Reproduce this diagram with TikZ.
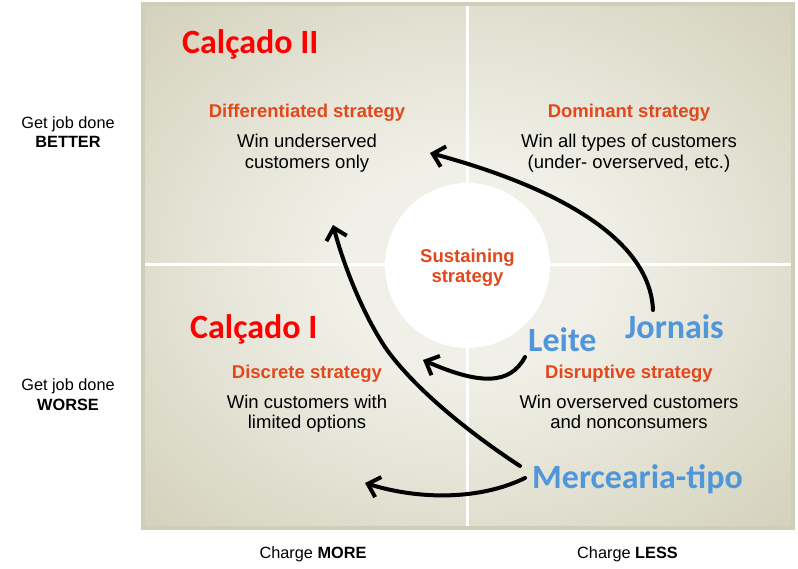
\documentclass[tikz,border=0pt]{standalone}
\usepackage{fontspec}
\setmainfont{Liberation Sans}
\newfontfamily\calfont{Carlito}
\usetikzlibrary{arrows.meta}
\definecolor{bglight}{HTML}{F0F0E8}
\definecolor{bgdark}{HTML}{D3D1BB}
\definecolor{framec}{HTML}{CFCEB8}
\definecolor{stratc}{HTML}{E2481B}
\definecolor{bigred}{HTML}{FF0000}
\definecolor{bigblue}{HTML}{4F96DA}
\pgfdeclareradialshading{bgshade}{\pgfpoint{0bp}{0bp}}{color(0bp)=(bglight); color(10bp)=(bglight); color(36bp)=(bgdark); color(50bp)=(bgdark)}
\begin{document}
\begin{tikzpicture}[x=1pt,y=-1pt,
  axislab/.style={anchor=base, align=center, inner sep=0pt, font=\fontsize{16.3}{19.5}\selectfont},
  head/.style={anchor=base, align=center, inner sep=0pt, text=stratc, font=\fontsize{18.5}{20}\selectfont\bfseries},
  body/.style={anchor=base, align=center, inner sep=0pt, font=\fontsize{18.5}{20.5}\selectfont},
  bigred/.style={anchor=base west, inner sep=0pt, text=bigred, font=\fontsize{34}{38}\selectfont\calfont\bfseries},
  bigblue/.style={anchor=base west, inner sep=0pt, text=bigblue, font=\fontsize{34}{38}\selectfont\calfont\bfseries},
  arr/.style={line width=4pt, line cap=round, -{Straight Barb[length=11pt,width=21pt]}}]
\useasboundingbox (0,0) rectangle (798,569);
% background
\shade[shading=bgshade] (143,4) rectangle (793,528);
\draw[white, line width=3pt] (467.5,4) -- (467.5,528);
\draw[white, line width=3pt] (143,265) -- (793,265);
\draw[framec, line width=3.5pt] (143,4) rectangle (793,528);
\fill[white] (467.5,265.5) circle (82.5);
% axis labels (anchored at the baseline of the last line)
\node[axislab] (better) at (68,148) {Get job done\\\textbf{BETTER}};
\node[axislab] (worse) at (68,410) {Get job done\\\textbf{WORSE}};
\node[axislab] (more) at (313,558) {Charge \textbf{MORE}};
\node[axislab] (less) at (627.5,558) {Charge \textbf{LESS}};
% quadrant texts
\node[head] (diffh) at (307,118) {Differentiated strategy};
\node[body] (diffb) at (307,168.5) {Win underserved\\customers only};
\node[head] (domh) at (629,118) {Dominant strategy};
\node[body] (domb) at (629,168.5) {Win all types of customers\\(under- overserved, etc.)};
\node[head] (susth) at (467.5,283) {Sustaining\\strategy};
\node[head] (disch) at (307,378) {Discrete strategy};
\node[body] (discb) at (307,428.5) {Win customers with\\limited options};
\node[head] (disrh) at (629,378) {Disruptive strategy};
\node[body] (disrb) at (629,428.5) {Win overserved customers\\and nonconsumers};
% big labels
\node[bigred] (calc2) at (182,54) {Calçado II};
\node[bigred] (calc1) at (190,339) {Calçado I};
\node[bigblue] (leite) at (528,352) {Leite};
\node[bigblue] (jornais) at (625,338) {Jornais};
\node[bigblue] (merc) at (532,488) {Mercearia-tipo};
% arrow ends
\coordinate (jstart) at (653,310);
\coordinate (jtip) at (430,153);
\coordinate (lstart) at (525,357);
\coordinate (ltip) at (423,360);
\coordinate (mstart1) at (520,466);
\coordinate (mmid) at (387,350);
\coordinate (mtip1) at (333,225);
\coordinate (mstart2) at (525,478);
\coordinate (mtip2) at (365,483);
% arrows
\draw[arr] (jstart) .. controls (650,240) and (560,188) .. (jtip);
\draw[arr] (lstart) .. controls (510,385) and (480,385) .. (ltip);
\draw[arr] (mstart1) .. controls (480,440) and (420,395) .. (mmid) .. controls (365,318) and (345,270) .. (mtip1);
\draw[arr] (mstart2) .. controls (480,500) and (420,500) .. (mtip2);
\end{tikzpicture}
\end{document}
